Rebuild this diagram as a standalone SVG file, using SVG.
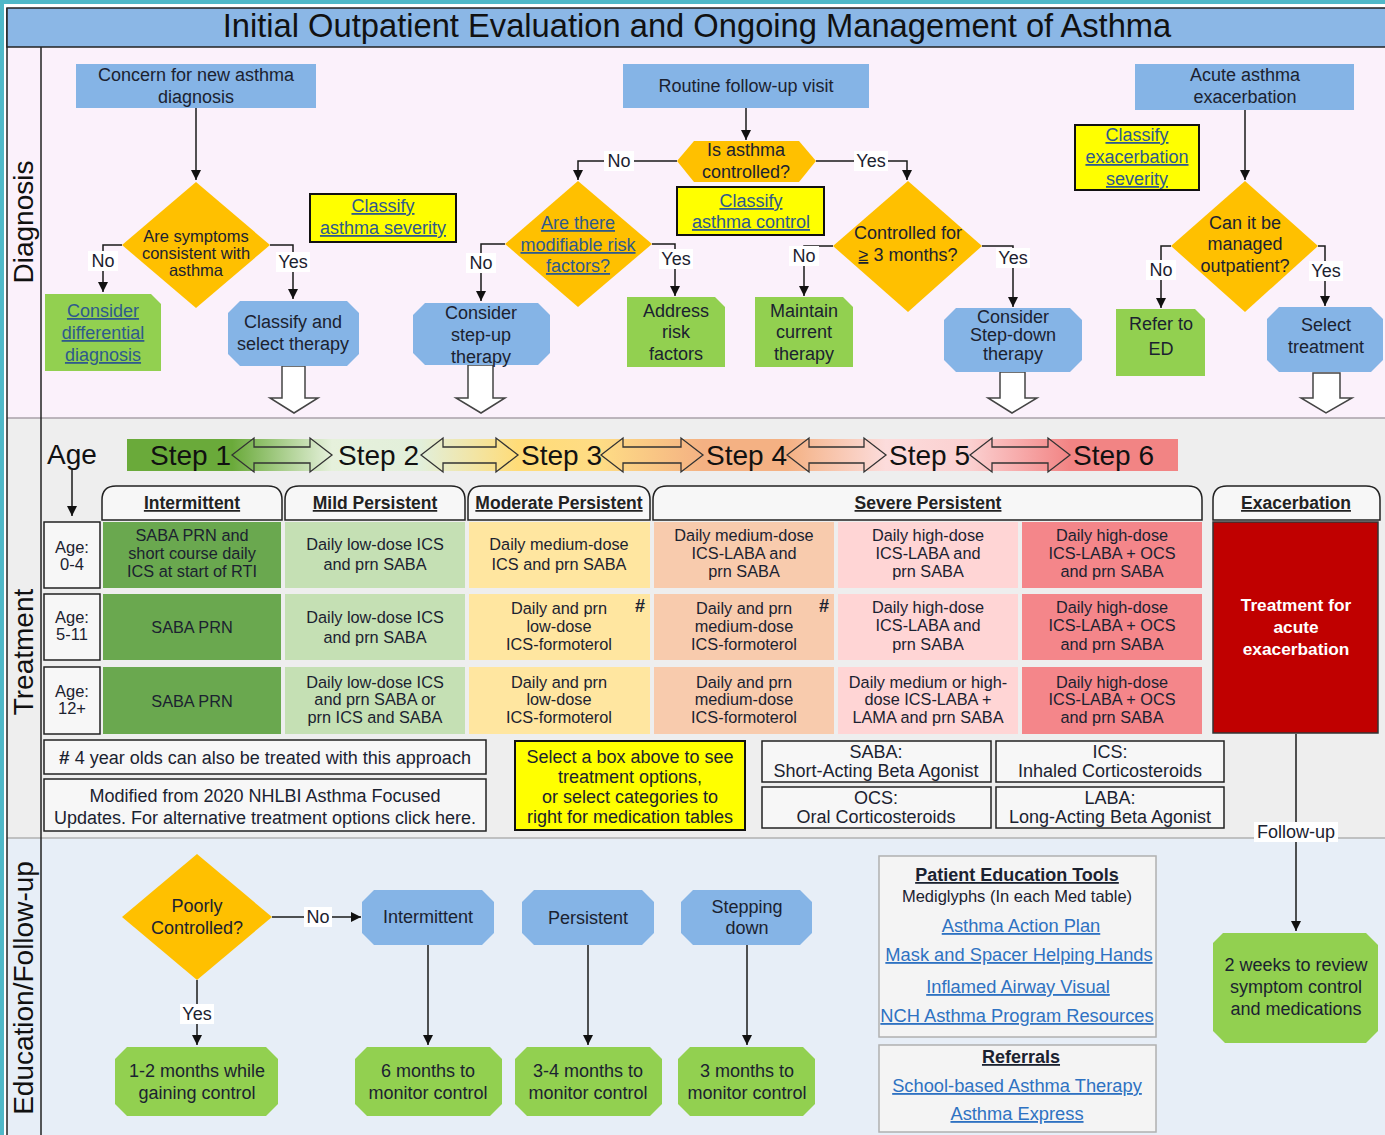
<svg xmlns="http://www.w3.org/2000/svg" width="1385" height="1135" viewBox="0 0 1385 1135">
<defs>
<style>
.t{font-family:"Liberation Sans",Arial,sans-serif;fill:#1b2230;text-anchor:middle}
.f16{font-size:18px}.f15{font-size:16.3px}.f14{font-size:16.5px}.f17{font-size:18px}
.lane{font-family:"Liberation Sans",Arial,sans-serif;font-size:28px;fill:#111;text-anchor:middle}
.link{fill:#2f5a8c;text-decoration:underline}
.elink{fill:#2e72c2;text-decoration:underline;font-size:18.3px}
.bold{font-weight:bold}
.ul{text-decoration:underline}
.blue{fill:#85b4e6}
.green{fill:#92d050}
.dia{fill:#ffc000}
.yel{fill:#ffff00;stroke:#111;stroke-width:2}
.hollow{fill:#fff;stroke:#444;stroke-width:1.5}
.conn{fill:none;stroke:#1a1a1a;stroke-width:1.5}
.lbl{fill:#fff}
.tab{fill:#f7f7f7;stroke:#222;stroke-width:1.5}
.box{fill:#f7f7f7;stroke:#222;stroke-width:1.5}
.sarrow{stroke:#333;stroke-width:1.3}
.steplbl{font-family:"Liberation Sans",Arial,sans-serif;font-size:28px;fill:#111}
</style>
<marker id="ah" viewBox="0 0 10 10" refX="10" refY="5" markerWidth="11" markerHeight="10" markerUnits="userSpaceOnUse" orient="auto">
<path d="M0,0 L10,5 L0,10 z" fill="#111"/>
</marker>
<linearGradient id="stepg" gradientUnits="userSpaceOnUse" x1="127" y1="0" x2="1178" y2="0">
<stop offset="0" stop-color="#6aaa3a"/>
<stop offset="0.10" stop-color="#6aaa3a"/>
<stop offset="0.195" stop-color="#e6f1dc"/>
<stop offset="0.28" stop-color="#e2efda"/>
<stop offset="0.372" stop-color="#ffdc78"/>
<stop offset="0.451" stop-color="#fedc85"/>
<stop offset="0.548" stop-color="#f4b183"/>
<stop offset="0.628" stop-color="#f4b183"/>
<stop offset="0.722" stop-color="#fcdcdc"/>
<stop offset="0.802" stop-color="#fbd0d0"/>
<stop offset="0.897" stop-color="#f28484"/>
<stop offset="1" stop-color="#f28484"/>
</linearGradient>
</defs>

<!-- background & lanes -->
<rect x="0" y="0" width="1385" height="1135" fill="#ffffff"/>
<rect x="0" y="0" width="1385" height="4" fill="#4fb8c8"/>
<rect x="0" y="0" width="4" height="1135" fill="#4fb8c8"/>
<rect x="7" y="47" width="1378" height="371" fill="#fbf1fb"/>
<rect x="7" y="418" width="1378" height="420" fill="#eeeeee"/>
<rect x="7" y="838" width="1378" height="297" fill="#e7eef7"/>
<line x1="7" y1="418" x2="1385" y2="418" stroke="#a8a0a8" stroke-width="1.5"/>
<line x1="7" y1="838" x2="1385" y2="838" stroke="#b0b0b0" stroke-width="1.5"/>
<line x1="7" y1="8" x2="7" y2="1135" stroke="#222" stroke-width="1.5"/>
<line x1="41" y1="47" x2="41" y2="1135" stroke="#222" stroke-width="1.5"/>
<g id="title">
<rect x="7" y="8" width="1380" height="39" fill="#8bb7e6" stroke="#222" stroke-width="1.5"/>
<text class="t" x="697" y="37" style="font-size:32.7px;fill:#111">Initial Outpatient Evaluation and Ongoing Management of Asthma</text>
</g>
<g id="lane-labels">
<text class="lane" transform="translate(33,222) rotate(-90)">Diagnosis</text>
<text class="lane" transform="translate(33,652) rotate(-90)">Treatment</text>
<text class="lane" transform="translate(33,988) rotate(-90)">Education/Follow-up</text>
</g>

<!-- connectors -->
<g id="connectors">
<path class="conn" d="M196,108 V180" marker-end="url(#ah)"/>
<path class="conn" d="M122,245 H103 V292" marker-end="url(#ah)"/>
<path class="conn" d="M270,245 H293 V299" marker-end="url(#ah)"/>
<path class="conn" d="M746,108 V140" marker-end="url(#ah)"/>
<path class="conn" d="M677,161 H578 V180" marker-end="url(#ah)"/>
<path class="conn" d="M816,161 H907 V180" marker-end="url(#ah)"/>
<path class="conn" d="M505,244 H481 V301" marker-end="url(#ah)"/>
<path class="conn" d="M652,244 H675 V296" marker-end="url(#ah)"/>
<path class="conn" d="M833,246 H804 V296" marker-end="url(#ah)"/>
<path class="conn" d="M982,246 H1013 V307" marker-end="url(#ah)"/>
<path class="conn" d="M1245,110 V180" marker-end="url(#ah)"/>
<path class="conn" d="M1171,246 H1161 V308" marker-end="url(#ah)"/>
<path class="conn" d="M1318,246 H1325 V306" marker-end="url(#ah)"/>
<path class="conn" d="M72,470 V516" marker-end="url(#ah)"/>
<path class="conn" d="M1296,734 V931" marker-end="url(#ah)"/>
<path class="conn" d="M272,917 H361" marker-end="url(#ah)"/>
<path class="conn" d="M197,980 V1045" marker-end="url(#ah)"/>
<path class="conn" d="M428,945 V1045" marker-end="url(#ah)"/>
<path class="conn" d="M588,945 V1045" marker-end="url(#ah)"/>
<path class="conn" d="M747,945 V1045" marker-end="url(#ah)"/>
<!-- hollow arrows -->
<polygon class="hollow" points="282,366 282,398 270,398 294,413 318,398 305,398 305,366"/>
<polygon class="hollow" points="468,365 468,398 456,398 481,413 505,398 493,398 493,365"/>
<polygon class="hollow" points="1000,372 1000,398 988,398 1012,413 1037,398 1025,398 1025,372"/>
<polygon class="hollow" points="1313,373 1313,398 1301,398 1326,413 1352,398 1340,398 1340,373"/>
<!-- labels -->
<g class="t f16">
<rect class="lbl" x="88" y="251" width="30" height="20"/><text x="103" y="267">No</text>
<rect class="lbl" x="276" y="252" width="34" height="20"/><text x="293" y="268">Yes</text>
<rect class="lbl" x="604" y="151" width="30" height="20"/><text x="619" y="167">No</text>
<rect class="lbl" x="854" y="151" width="34" height="20"/><text x="871" y="167">Yes</text>
<rect class="lbl" x="466" y="253" width="30" height="20"/><text x="481" y="269">No</text>
<rect class="lbl" x="659" y="249" width="34" height="20"/><text x="676" y="265">Yes</text>
<rect class="lbl" x="789" y="246" width="30" height="20"/><text x="804" y="262">No</text>
<rect class="lbl" x="996" y="248" width="34" height="20"/><text x="1013" y="264">Yes</text>
<rect class="lbl" x="1146" y="260" width="30" height="20"/><text x="1161" y="276">No</text>
<rect class="lbl" x="1309" y="261" width="34" height="20"/><text x="1326" y="277">Yes</text>
<rect class="lbl" x="1254" y="822" width="84" height="20"/><text x="1296" y="838">Follow-up</text>
<rect class="lbl" x="304" y="907" width="28" height="20"/><text x="318" y="923">No</text>
<rect class="lbl" x="180" y="1004" width="34" height="20"/><text x="197" y="1020">Yes</text>
</g>
</g>

<!-- Diagnosis nodes -->
<g id="concern">
<rect class="blue" x="76" y="64" width="240" height="44"/>
<text class="t f16" x="196" y="81">Concern for new asthma</text>
<text class="t f16" x="196" y="103">diagnosis</text>
</g>
<g id="symptoms-consistent">
<polygon class="dia" points="196,182 270,245 196,308 122,245"/>
<g class="t" style="font-size:16.5px">
<text x="196" y="242">Are symptoms</text>
<text x="196" y="259">consistent with</text>
<text x="196" y="276">asthma</text>
</g>
</g>
<g id="classify-severity">
<rect class="yel" x="310" y="194" width="146" height="48"/>
<text class="t f16 link" x="383" y="212">Classify</text>
<text class="t f16 link" x="383" y="234">asthma severity</text>
</g>
<g id="differential">
<polygon class="green" points="45,294 151,294 161,304 161,371 45,371"/>
<text class="t f16 link" x="103" y="317">Consider</text>
<text class="t f16 link" x="103" y="339">differential</text>
<text class="t f16 link" x="103" y="361">diagnosis</text>
</g>
<g id="classify-select">
<polygon class="blue" points="240,301 347,301 359,313 359,354 347,366 240,366 228,354 228,313"/>
<text class="t f16" x="293" y="328">Classify and</text>
<text class="t f16" x="293" y="350">select therapy</text>
</g>
<g id="routine">
<rect class="blue" x="623" y="64" width="246" height="44"/>
<text class="t f16" x="746" y="92">Routine follow-up visit</text>
</g>
<g id="is-controlled">
<polygon class="dia" points="694,141 799,141 816,161 799,182 694,182 677,161"/>
<text class="t f16" x="746" y="156">Is asthma</text>
<text class="t f16" x="746" y="178">controlled?</text>
</g>
<g id="classify-control">
<rect class="yel" x="677" y="187" width="147" height="48"/>
<text class="t f16 link" x="751" y="207">Classify</text>
<text class="t f16 link" x="751" y="228"> asthma control</text>
</g>
<g id="risk-factors">
<polygon class="dia" points="578,181 652,244 578,307 505,244"/>
<text class="t f16 link" x="578" y="229">Are there</text>
<text class="t f16 link" x="578" y="251">modifiable risk</text>
<text class="t f16 link" x="578" y="272">factors?</text>
</g>
<g id="step-up">
<polygon class="blue" points="425,303 538,303 550,315 550,353 538,365 425,365 413,353 413,315"/>
<text class="t f16" x="481" y="319">Consider</text>
<text class="t f16" x="481" y="341">step-up</text>
<text class="t f16" x="481" y="363">therapy</text>
</g>
<g id="address-risk">
<polygon class="green" points="627,297 715,297 725,307 725,367 627,367"/>
<text class="t f16" x="676" y="317">Address</text>
<text class="t f16" x="676" y="338">risk</text>
<text class="t f16" x="676" y="360">factors</text>
</g>
<g id="maintain">
<polygon class="green" points="755,297 843,297 853,307 853,367 755,367"/>
<text class="t f16" x="804" y="317">Maintain</text>
<text class="t f16" x="804" y="338">current</text>
<text class="t f16" x="804" y="360">therapy</text>
</g>
<g id="controlled-3m">
<polygon class="dia" points="908,181 982,246 908,312 833,246"/>
<text class="t f16" x="908" y="239">Controlled for</text>
<text class="t f16" x="908" y="261"><tspan class="ul">≥</tspan> 3 months?</text>
</g>
<g id="step-down">
<polygon class="blue" points="956,308 1070,308 1082,320 1082,360 1070,372 956,372 944,360 944,320"/>
<text class="t f16" x="1013" y="323">Consider</text>
<text class="t f16" x="1013" y="341">Step-down</text>
<text class="t f16" x="1013" y="360">therapy</text>
</g>
<g id="acute">
<rect class="blue" x="1135" y="64" width="219" height="46"/>
<text class="t f16" x="1245" y="81">Acute asthma</text>
<text class="t f16" x="1245" y="103">exacerbation</text>
</g>
<g id="classify-exacerbation">
<rect class="yel" x="1075" y="125" width="124" height="65"/>
<text class="t f16 link" x="1137" y="141">Classify</text>
<text class="t f16 link" x="1137" y="163">exacerbation</text>
<text class="t f16 link" x="1137" y="185">severity</text>
</g>
<g id="outpatient">
<polygon class="dia" points="1245,181 1318,246 1245,312 1171,246"/>
<text class="t f16" x="1245" y="229">Can it be</text>
<text class="t f16" x="1245" y="250">managed</text>
<text class="t f16" x="1245" y="272">outpatient?</text>
</g>
<g id="refer-ed">
<polygon class="green" points="1116,309 1195,309 1205,319 1205,376 1116,376"/>
<text class="t f16" x="1161" y="330">Refer to</text>
<text class="t f16" x="1161" y="355">ED</text>
</g>
<g id="select-treatment">
<polygon class="blue" points="1279,307 1371,307 1383,319 1383,360 1371,372 1279,372 1267,360 1267,319"/>
<text class="t f16" x="1326" y="331">Select</text>
<text class="t f16" x="1326" y="353">treatment</text>
</g>

<!-- Treatment: steps -->
<g id="age-label">
<text class="steplbl" x="47" y="464">Age</text>
</g>
<g id="steps">
<rect x="127" y="439" width="1051" height="32" fill="url(#stepg)"/>
<polygon class="sarrow" fill="url(#stepg)" points="232,455 254,438 254,447 310,447 310,438 332,455 310,472 310,463 254,463 254,472"/>
<polygon class="sarrow" fill="url(#stepg)" points="421,455 443,438 443,447 496,447 496,438 518,455 496,472 496,463 443,463 443,472"/>
<polygon class="sarrow" fill="url(#stepg)" points="601,455 623,438 623,447 681,447 681,438 703,455 681,472 681,463 623,463 623,472"/>
<polygon class="sarrow" fill="url(#stepg)" points="787,455 809,438 809,447 864,447 864,438 886,455 864,472 864,463 809,463 809,472"/>
<polygon class="sarrow" fill="url(#stepg)" points="970,455 992,438 992,447 1048,447 1048,438 1070,455 1048,472 1048,463 992,463 992,472"/>
<text class="steplbl" x="150" y="465">Step 1</text>
<text class="steplbl" x="338" y="465">Step 2</text>
<text class="steplbl" x="521" y="465">Step 3</text>
<text class="steplbl" x="706" y="465">Step 4</text>
<text class="steplbl" x="889" y="465">Step 5</text>
<text class="steplbl" x="1073" y="465">Step 6</text>
</g>
<g id="tabs">
<path class="tab" d="M102,520 V500 Q102,486 116,486 H268 Q282,486 282,500 V520 Z"/>
<path class="tab" d="M285,520 V500 Q285,486 299,486 H451 Q465,486 465,500 V520 Z"/>
<path class="tab" d="M468,520 V500 Q468,486 482,486 H636 Q650,486 650,500 V520 Z"/>
<path class="tab" d="M653,520 V500 Q653,486 667,486 H1188 Q1202,486 1202,500 V520 Z"/>
<path class="tab" d="M1213,520 V500 Q1213,486 1227,486 H1366 Q1380,486 1380,500 V520 Z"/>
<g class="t bold ul" style="font-size:17.5px;fill:#222">
<text x="192" y="509">Intermittent</text>
<text x="375" y="509">Mild Persistent</text>
<text x="559" y="509">Moderate Persistent</text>
<text x="928" y="509">Severe Persistent</text>
<text x="1296" y="509">Exacerbation</text>
</g>
</g>
<g id="age-rows">
<rect class="box" x="44" y="522" width="56" height="66"/>
<rect class="box" x="44" y="594" width="56" height="66"/>
<rect class="box" x="44" y="667" width="56" height="67"/>
<g class="t f14">
<text x="72" y="553">Age:</text><text x="72" y="570">0-4</text>
<text x="72" y="623">Age:</text><text x="72" y="640">5-11</text>
<text x="72" y="697">Age:</text><text x="72" y="714">12+</text>
</g>
</g>
<g id="table-cells">
<g fill="#6aa84f">
<rect x="103" y="522" width="178" height="66"/><rect x="103" y="594" width="178" height="66"/><rect x="103" y="667" width="178" height="67"/>
</g>
<g fill="#c5e0b4">
<rect x="285" y="522" width="180" height="66"/><rect x="285" y="594" width="180" height="66"/><rect x="285" y="667" width="180" height="67"/>
</g>
<g fill="#ffe6a0">
<rect x="469" y="522" width="181" height="66"/><rect x="469" y="594" width="181" height="66"/><rect x="469" y="667" width="181" height="67"/>
</g>
<g fill="#f8cbad">
<rect x="654" y="522" width="180" height="66"/><rect x="654" y="594" width="180" height="66"/><rect x="654" y="667" width="180" height="67"/>
</g>
<g fill="#ffd5d5">
<rect x="838" y="522" width="180" height="66"/><rect x="838" y="594" width="180" height="66"/><rect x="838" y="667" width="180" height="67"/>
</g>
<g fill="#f4868a">
<rect x="1022" y="522" width="180" height="66"/><rect x="1022" y="594" width="180" height="66"/><rect x="1022" y="667" width="180" height="67"/>
</g>
<g class="t f15">
<text x="192" y="541">SABA PRN and</text><text x="192" y="559">short course daily</text><text x="192" y="577">ICS at start of RTI</text>
<text x="375" y="550">Daily low-dose ICS</text><text x="375" y="570">and prn SABA</text>
<text x="559" y="550">Daily medium-dose</text><text x="559" y="570">ICS and prn SABA</text>
<text x="744" y="541">Daily medium-dose</text><text x="744" y="559">ICS-LABA and</text><text x="744" y="577">prn SABA</text>
<text x="928" y="541">Daily high-dose</text><text x="928" y="559">ICS-LABA and</text><text x="928" y="577">prn SABA</text>
<text x="1112" y="541">Daily high-dose</text><text x="1112" y="559">ICS-LABA + OCS</text><text x="1112" y="577">and prn SABA</text>

<text x="192" y="633">SABA PRN</text>
<text x="375" y="623">Daily low-dose ICS</text><text x="375" y="643">and prn SABA</text>
<text x="559" y="614">Daily and prn</text><text x="559" y="632">low-dose</text><text x="559" y="650">ICS-formoterol</text>
<text x="744" y="614">Daily and prn</text><text x="744" y="632">medium-dose</text><text x="744" y="650">ICS-formoterol</text>
<text x="928" y="613">Daily high-dose</text><text x="928" y="631">ICS-LABA and</text><text x="928" y="650">prn SABA</text>
<text x="1112" y="613">Daily high-dose</text><text x="1112" y="631">ICS-LABA + OCS</text><text x="1112" y="650">and prn SABA</text>

<text x="192" y="707">SABA PRN</text>
<text x="375" y="688">Daily low-dose ICS</text><text x="375" y="705">and prn SABA or</text><text x="375" y="723">prn ICS and SABA</text>
<text x="559" y="688">Daily and prn</text><text x="559" y="705">low-dose</text><text x="559" y="723">ICS-formoterol</text>
<text x="744" y="688">Daily and prn</text><text x="744" y="705">medium-dose</text><text x="744" y="723">ICS-formoterol</text>
<text x="928" y="688">Daily medium or high-</text><text x="928" y="705">dose ICS-LABA +</text><text x="928" y="723">LAMA and prn SABA</text>
<text x="1112" y="688">Daily high-dose</text><text x="1112" y="705">ICS-LABA + OCS</text><text x="1112" y="723">and prn SABA</text>
</g>
<text class="t bold" x="640" y="612" style="font-size:18px">#</text>
<text class="t bold" x="824" y="612" style="font-size:18px">#</text>
</g>
<g id="exacerbation-treatment">
<rect x="1213" y="522" width="165" height="211" fill="#c00000" stroke="#333" stroke-width="1.5"/>
<g class="t bold" style="fill:#fff;font-size:17.3px">
<text x="1296" y="611">Treatment for</text>
<text x="1296" y="633">acute</text>
<text x="1296" y="655">exacerbation</text>
</g>
</g>
<g id="footnote">
<rect class="box" x="44" y="740" width="442" height="34"/>
<text class="t f16" x="265" y="764"><tspan class="bold" style="font-size:19px">#</tspan> 4 year olds can also be treated with this approach</text>
</g>
<g id="modified">
<rect class="box" x="44" y="779" width="442" height="52"/>
<text class="t f16" x="265" y="802">Modified from 2020 NHLBI Asthma Focused</text>
<text class="t f16" x="265" y="824">Updates. For alternative treatment options click here.</text>
</g>
<g id="select-box">
<rect class="yel" x="515" y="741" width="230" height="89"/>
<g class="t f16">
<text x="630" y="763">Select a box above to see</text>
<text x="630" y="783">treatment options,</text>
<text x="630" y="803">or select categories to</text>
<text x="630" y="823">right for medication tables</text>
</g>
</g>
<g id="saba">
<rect class="box" x="762" y="741" width="229" height="41"/>
<text class="t f16" x="876" y="758">SABA:</text><text class="t f16" x="876" y="777">Short-Acting Beta Agonist</text>
</g>
<g id="ics">
<rect class="box" x="996" y="741" width="228" height="41"/>
<text class="t f16" x="1110" y="758">ICS:</text><text class="t f16" x="1110" y="777">Inhaled Corticosteroids</text>
</g>
<g id="ocs">
<rect class="box" x="762" y="787" width="229" height="41"/>
<text class="t f16" x="876" y="804">OCS:</text><text class="t f16" x="876" y="823">Oral Corticosteroids</text>
</g>
<g id="laba">
<rect class="box" x="996" y="787" width="228" height="41"/>
<text class="t f16" x="1110" y="804">LABA:</text><text class="t f16" x="1110" y="823">Long-Acting Beta Agonist</text>
</g>

<!-- Education -->
<g id="poorly-controlled">
<polygon class="dia" points="197,854 272,917 197,980 122,917"/>
<text class="t f16" x="197" y="912">Poorly</text>
<text class="t f16" x="197" y="934">Controlled?</text>
</g>
<g id="edu-intermittent">
<polygon class="blue" points="374,890 482,890 494,902 494,933 482,945 374,945 362,933 362,902"/>
<text class="t f16" x="428" y="923">Intermittent</text>
</g>
<g id="edu-persistent">
<polygon class="blue" points="534,890 642,890 654,902 654,933 642,945 534,945 522,933 522,902"/>
<text class="t f16" x="588" y="924">Persistent</text>
</g>
<g id="edu-stepping">
<polygon class="blue" points="693,890 800,890 812,902 812,933 800,945 693,945 681,933 681,902"/>
<text class="t f16" x="747" y="913">Stepping</text>
<text class="t f16" x="747" y="934">down</text>
</g>
<g id="gaining-control">
<polygon class="green" points="127,1047 266,1047 278,1059 278,1104 266,1116 127,1116 115,1104 115,1059"/>
<text class="t f16" x="197" y="1077">1-2 months while</text>
<text class="t f16" x="197" y="1099">gaining control</text>
</g>
<g id="six-months">
<polygon class="green" points="367,1047 490,1047 502,1059 502,1104 490,1116 367,1116 355,1104 355,1059"/>
<text class="t f16" x="428" y="1077">6 months to</text>
<text class="t f16" x="428" y="1099">monitor control</text>
</g>
<g id="three-four-months">
<polygon class="green" points="527,1047 650,1047 662,1059 662,1104 650,1116 527,1116 515,1104 515,1059"/>
<text class="t f16" x="588" y="1077">3-4 months to</text>
<text class="t f16" x="588" y="1099">monitor control</text>
</g>
<g id="three-months">
<polygon class="green" points="690,1047 803,1047 815,1059 815,1104 803,1116 690,1116 678,1104 678,1059"/>
<text class="t f16" x="747" y="1077">3 months to</text>
<text class="t f16" x="747" y="1099">monitor control</text>
</g>
<g id="two-weeks">
<polygon class="green" points="1223,933 1366,933 1378,945 1378,1031 1366,1043 1225,1043 1213,1031 1213,943"/>
<text class="t f16" x="1296" y="971">2 weeks to review</text>
<text class="t f16" x="1296" y="993">symptom control</text>
<text class="t f16" x="1296" y="1015">and medications</text>
</g>
<g id="patient-education">
<rect x="879" y="856" width="277" height="181" fill="#f4f4f4" stroke="#b0b0b0" stroke-width="1.5"/>
<text class="t f16 bold ul" x="1017" y="881">Patient Education Tools</text>
<text class="t f14" x="1017" y="902">Mediglyphs (In each Med table)</text>
<text class="t elink" x="1021" y="932">Asthma Action Plan</text>
<text class="t elink" x="1019" y="961">Mask and Spacer Helping Hands</text>
<text class="t elink" x="1018" y="993">Inflamed Airway Visual</text>
<text class="t elink" x="1017" y="1022">NCH Asthma Program Resources</text>
</g>
<g id="referrals">
<rect x="879" y="1045" width="277" height="87" fill="#f4f4f4" stroke="#b0b0b0" stroke-width="1.5"/>
<text class="t f16 bold ul" x="1021" y="1063">Referrals</text>
<text class="t elink" x="1017" y="1092">School-based Asthma Therapy</text>
<text class="t elink" x="1017" y="1120">Asthma Express</text>
</g>
</svg>
